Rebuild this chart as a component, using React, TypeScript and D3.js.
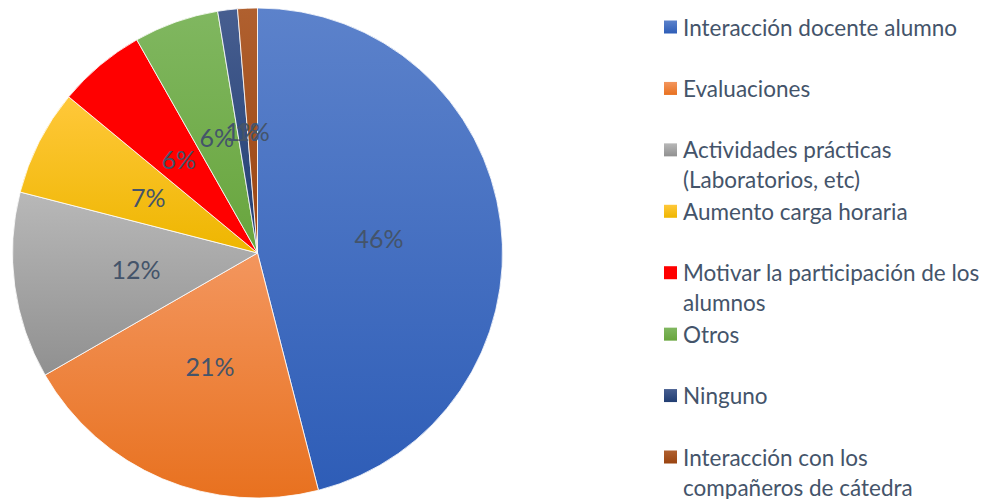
import React from "react";
import * as d3 from "d3";

const categories = [
  "Interacción docente alumno",
  "Evaluaciones",
  "Actividades prácticas (Laboratorios, etc)",
  "Aumento carga horaria",
  "Motivar la participación de los alumnos",
  "Otros",
  "Ninguno",
  "Interacción con los compañeros de cátedra",
];
const legendLines = [
  ["Interacción docente alumno"],
  ["Evaluaciones"],
  ["Actividades prácticas", "(Laboratorios, etc)"],
  ["Aumento carga horaria"],
  ["Motivar la participación de los", "alumnos"],
  ["Otros"],
  ["Ninguno"],
  ["Interacción con los", "compañeros de cátedra"],
];
const values = [46.0, 20.7, 12.3, 7.0, 5.8, 5.6, 1.3, 1.3];
const colorsTop = ["#5C82CB", "#F3965E", "#B8B8B8", "#FFC83A", "#FF0000", "#80B760", "#475E90", "#B0602F"];
const colorsBottom = ["#2E5DB7", "#E8711F", "#909090", "#EEB600", "#FF0000", "#68A53D", "#213E72", "#9A4410"];

const W = 983;
const H = 499;
const cx = 257.5;
const cy = 253;
const R = 245;
const TEXT = "#44546A";
const FONT = "Lato, 'Open Sans', sans-serif";

export default function App() {
  const pie = d3.pie<number>().sort(null).startAngle(0).endAngle(2 * Math.PI);
  const arcs = pie(values);
  const arc = d3.arc<d3.PieArcDatum<number>>().innerRadius(0).outerRadius(R);
  const total = d3.sum(values);
  const fmt = (v: number) => `${Math.round((v / total) * 100)}%`;
  const rowY = d3.scalePoint<string>().domain(categories).range([27, 457]);

  return (
    <svg
      width={W}
      height={H}
      style={{ position: "absolute", left: 0, top: 0, display: "block", background: "#fff" }}
    >
      <defs>
        {categories.map((c, i) => (
          <linearGradient key={c} id={`g${i}`} x1="0" y1="0" x2="0" y2="1">
            <stop offset="0" stopColor={colorsTop[i]} />
            <stop offset="1" stopColor={colorsBottom[i]} />
          </linearGradient>
        ))}
      </defs>
      <g transform={`translate(${cx},${cy})`}>
        {arcs.map((a, i) => (
          <path key={i} d={arc(a) || ""} fill={`url(#g${i})`} stroke="#fff" strokeWidth={0.8} />
        ))}
        {arcs.map((a, i) => {
          const [x, y] = arc.centroid(a);
          return (
            <text
              key={i}
              x={x}
              y={y}
              textAnchor="middle"
              dominantBaseline="central"
              fill={TEXT}
              fontFamily={FONT}
              fontSize={25}
            >
              {fmt(a.data)}
            </text>
          );
        })}
      </g>
      <g>
        {categories.map((c, i) => {
          const y = rowY(c) as number;
          return (
            <g key={c}>
              <rect x={664} y={y - 6.5} width={13} height={13} fill={`url(#g${i})`} />
              {legendLines[i].map((ln, j) => (
                <text
                  key={j}
                  x={683}
                  y={y + j * 30}
                  dominantBaseline="central"
                  fill={TEXT}
                  fontFamily={FONT}
                  fontSize={22.5}
                >
                  {ln}
                </text>
              ))}
            </g>
          );
        })}
      </g>
    </svg>
  );
}
